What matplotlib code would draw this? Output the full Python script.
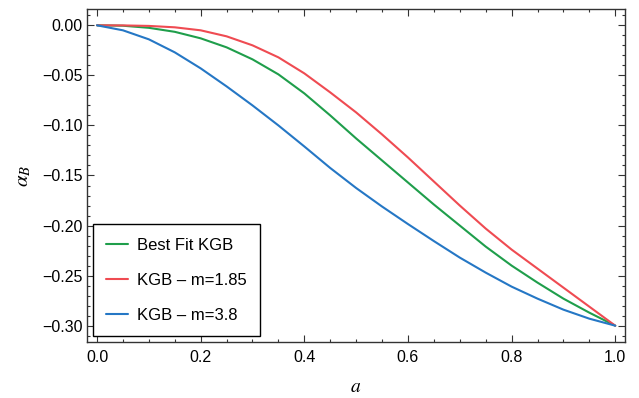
import numpy as np
import matplotlib
matplotlib.use('Agg')
import matplotlib.pyplot as plt
from matplotlib.ticker import MultipleLocator

plt.rcParams['font.family'] = ['Liberation Sans', 'DejaVu Sans']
plt.rcParams['mathtext.fontset'] = 'stix'

# values
a = [0.0, 0.05, 0.1, 0.15, 0.2, 0.25, 0.3, 0.35, 0.4, 0.45, 0.5,
     0.55, 0.6, 0.65, 0.7, 0.75, 0.8, 0.85, 0.9, 0.95, 1.0]
best_fit = [0.0, -0.0004, -0.0025, -0.0065, -0.013, -0.022, -0.034, -0.049, -0.068, -0.090, -0.113,
            -0.135, -0.157, -0.179, -0.200, -0.221, -0.240, -0.257, -0.273, -0.287, -0.300]
m185 = [0.0, -0.0001, -0.0006, -0.002, -0.005, -0.011, -0.020, -0.032, -0.048, -0.067, -0.087,
        -0.109, -0.132, -0.156, -0.180, -0.203, -0.224, -0.243, -0.262, -0.281, -0.300]
m38 = [0.0, -0.005, -0.014, -0.027, -0.043, -0.061, -0.080, -0.100, -0.121, -0.1425, -0.1625,
       -0.181, -0.1985, -0.2155, -0.232, -0.247, -0.261, -0.273, -0.284, -0.293, -0.300]

labels = ['Best Fit KGB', 'KGB \u2013 m=1.85', 'KGB \u2013 m=3.8']
colors = ['#1f9e4b', '#ef4b52', '#2577c5']

fig = plt.figure(figsize=(6.39, 3.98), dpi=100)
ax = fig.add_axes([0.1362, 0.1407, 0.978 - 0.1362, 0.9774 - 0.1407])

for ys, lab, c in zip([best_fit, m185, m38], labels, colors):
    ax.plot(a, ys, color=c, lw=1.5, label=lab, solid_capstyle='round', solid_joinstyle='round')

ax.set_xlim(-0.0193, 1.0187)
ax.set_ylim(-0.3163, 0.0163)

ax.xaxis.set_major_locator(MultipleLocator(0.2))
ax.xaxis.set_minor_locator(MultipleLocator(0.05))
ax.yaxis.set_major_locator(MultipleLocator(0.05))
ax.yaxis.set_minor_locator(MultipleLocator(0.01))
ax.xaxis.set_major_formatter(lambda v, p: f'{v:.1f}')
ax.yaxis.set_major_formatter(lambda v, p: ('\u2212' + f'{-v:.2f}') if v < -1e-9 else '0.00')

ax.tick_params(which='both', direction='in', top=True, right=True, color='#333333',
               labelsize=11.5, width=0.8)
ax.tick_params(axis='x', pad=6)
ax.tick_params(axis='y', pad=3)
ax.tick_params(which='major', length=5)
ax.tick_params(which='minor', length=2.5)
for s in ax.spines.values():
    s.set_color('#333333')
    s.set_linewidth(1.0)

ax.set_xlabel(r'$a$', fontsize=14, labelpad=10)
ax.set_ylabel(r'$\alpha_B$', fontsize=15, labelpad=7)

leg = ax.legend(loc='lower left', bbox_to_anchor=(0.011, 0.018), borderaxespad=0,
                fancybox=False, edgecolor='black', framealpha=1, fontsize=12,
                handlelength=1.3, handletextpad=0.55, labelspacing=1.2,
                borderpad=0.8)
leg.get_frame().set_linewidth(1.0)

fig.savefig('out.png', dpi=100)
